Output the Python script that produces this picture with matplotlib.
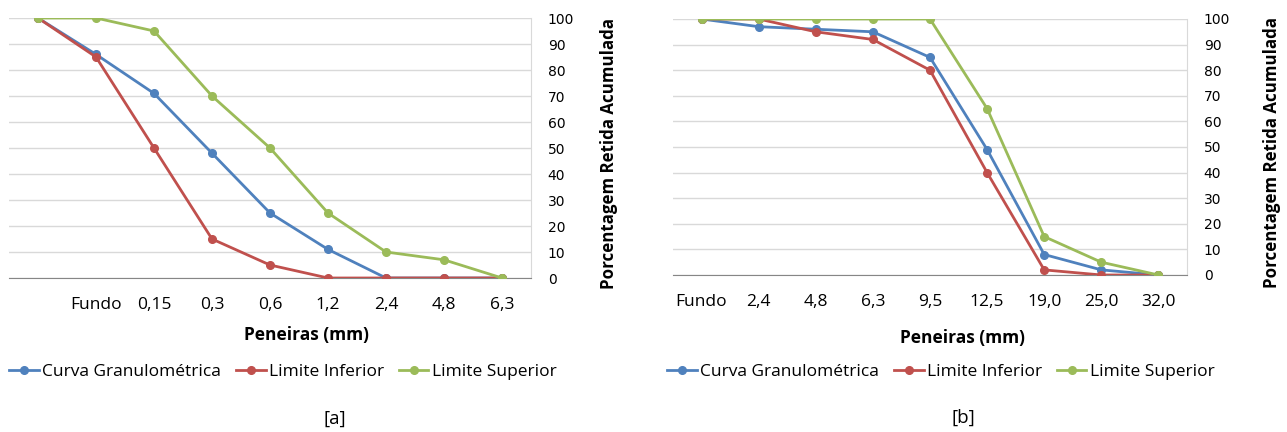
#!/usr/bin/env python3
import matplotlib
matplotlib.use('Agg')
import matplotlib.pyplot as plt
from matplotlib.lines import Line2D

# [a] agregado miudo
peneiras_a = ['', 'Fundo', '0,15', '0,3', '0,6', '1,2', '2,4', '4,8', '6,3']
curva_a = [100, 86, 71, 48, 25, 11, 0, 0, 0]
inferior_a = [100, 85, 50, 15, 5, 0, 0, 0, 0]
superior_a = [100, 100, 95, 70, 50, 25, 10, 7, 0]

# [b] agregado graudo
peneiras_b = ['Fundo', '2,4', '4,8', '6,3', '9,5', '12,5', '19,0', '25,0', '32,0']
curva_b = [100, 97, 96, 95, 85, 49, 8, 2, 0]
inferior_b = [100, 100, 95, 92, 80, 40, 2, 0, 0]
superior_b = [100, 100, 100, 100, 100, 65, 15, 5, 0]

series_names = ['Curva Granulométrica', 'Limite Inferior', 'Limite Superior']
colors = ['#4F81BD', '#C0504D', '#9BBB59']

FONT = 'Open Sans'
FS = 12.5
W, H = 1287, 432


def draw_chart(fig, box, labels, data, caption, pos):
	# box = (left, top, right, bottom) in pixels
	l, t, r, b = box
	ax = fig.add_axes([l / W, 1 - b / H, (r - l) / W, (b - t) / H])
	x = range(len(labels))
	for values, color in zip(data, colors):
		ax.plot(x, values, color=color, lw=2, marker='o', markersize=5.5, zorder=3)

	ax.set_xlim(-0.5, len(labels) - 0.5)
	ax.set_ylim(0, 100)
	ax.set_yticks(range(0, 101, 10))
	ax.set_xticks(list(x))
	ax.set_xticklabels(labels, fontsize=FS, family=FONT)
	for lbl in ax.get_yticklabels():
		lbl.set_fontsize(FS)
		lbl.set_family(FONT)

	ax.yaxis.tick_right()
	ax.yaxis.set_label_position('right')
	ax.tick_params(axis='both', length=0)
	ax.tick_params(axis='x', pad=14)
	ax.tick_params(axis='y', pad=12)
	ax.set_ylabel('Porcentagem Retida Acumulada', fontsize=12.2, fontweight='bold',
		family=FONT, va='center')
	ax.yaxis.set_label_coords((pos['ylabel'] - l) / (r - l), 0.48)

	ax.grid(axis='y', color='#D9D9D9', lw=1)
	ax.set_axisbelow(True)
	for side in ['top', 'left']:
		ax.spines[side].set_visible(False)
	ax.spines['bottom'].set_color('#868686')
	ax.spines['right'].set_color('#D9D9D9')

	fig.text(pos['xlabel'][0] / W, 1 - pos['xlabel'][1] / H, 'Peneiras (mm)',
		ha='center', va='center', fontsize=FS, fontweight='bold', family=FONT)
	fig.text(pos['caption'][0] / W, 1 - pos['caption'][1] / H, caption,
		ha='center', va='center', fontsize=13.5, family=FONT)

	handles = [Line2D([], [], color=c, lw=2, marker='o', markersize=5.5) for c in colors]
	fig.legend(handles, series_names, loc='center', ncol=3,
		bbox_to_anchor=(pos['legend'] / W, 1 - 372 / H), frameon=False,
		handlelength=1.7, handletextpad=0.2, columnspacing=0.85,
		prop={'family': FONT, 'size': FS})
	return ax


def main():
	fig = plt.figure(figsize=(W / 100, H / 100), dpi=100)

	draw_chart(fig, (9, 18, 531, 278), peneiras_a, [curva_a, inferior_a, superior_a], '[a]',
		{'ylabel': 609, 'xlabel': (306, 335), 'caption': (335, 419), 'legend': 283})
	draw_chart(fig, (673, 19, 1187, 275), peneiras_b, [curva_b, inferior_b, superior_b], '[b]',
		{'ylabel': 1272, 'xlabel': (963, 338), 'caption': (963, 418), 'legend': 941})

	fig.savefig('out.png', dpi=100)


if __name__ == '__main__':
	main()
